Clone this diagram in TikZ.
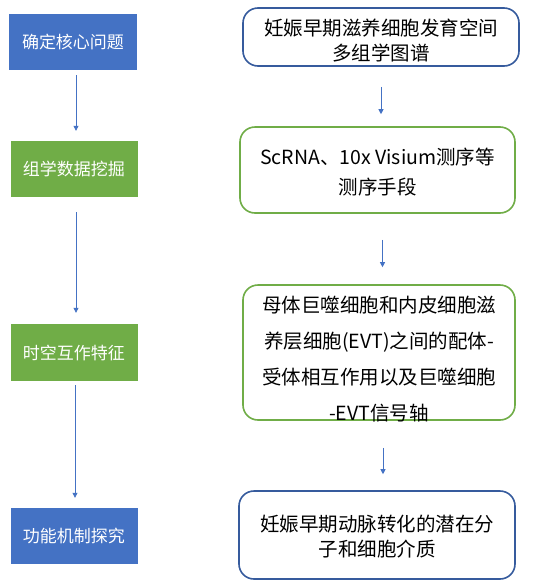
\documentclass[tikz,border=0pt]{standalone}
\usepackage{fontspec}
\setmainfont{Noto Sans CJK SC}
\usetikzlibrary{arrows.meta}
\definecolor{myblue}{HTML}{4472C4}
\definecolor{mygreen}{HTML}{70AD47}
\begin{document}
\begin{tikzpicture}[x=1pt,y=-1pt,
  leftbox/.style={minimum width=127pt, minimum height=56pt, inner sep=0pt, text=white, font=\fontsize{17}{20}\selectfont},
  rightbox/.style={rounded corners=15pt, line width=1.6pt, fill=white, inner sep=0pt, align=center, font=\fontsize{19.5}{25}\selectfont},
  boxtext/.style={align=center, inner sep=0pt, font=\fontsize{19.5}{25}\selectfont},
  flow/.style={draw=myblue, line width=0.8pt, -{Triangle[width=5pt,length=5pt]}}
]
\useasboundingbox[fill=white] (0,0) rectangle (535,587);
% left column
\node[leftbox, fill=myblue, minimum width=128pt] (L1) at (73,42) {确定核心问题};
\node[leftbox, fill=mygreen] (L2) at (74,169) {组学数据挖掘};
\node[leftbox, fill=mygreen, minimum height=57pt] (L3) at (74,352.5) {时空互作特征};
\node[leftbox, fill=myblue] (L4) at (74,536) {功能机制探究};
% right column
\node[rightbox, draw=myblue!80!black, minimum width=276pt, minimum height=58pt] (R1) at (381,37) {};
\node[boxtext] (R1t) at (381,41) {妊娠早期滋养细胞发育空间\\多组学图谱};
\node[rightbox, draw=mygreen, minimum width=275pt, minimum height=86pt] (R2) at (377.5,170) {};
\node[boxtext] (R2t) at (377.5,172) {ScRNA、10x Visium测序等\\[5pt]测序手段};
\node[rightbox, draw=mygreen, minimum width=272pt, minimum height=135pt] (R3) at (379,352.5) {};
\node[boxtext, font=\fontsize{19.5}{36}\selectfont] (R3t) at (379,359) {母体巨噬细胞和内皮细胞滋\\养层细胞(EVT)之间的配体-\\受体相互作用以及巨噬细胞\\-EVT信号轴};
\node[rightbox, draw=myblue!80!black, minimum width=276pt, minimum height=88pt] (R4) at (377,535) {};
\node[boxtext] (R4t) at (377,537) {妊娠早期动脉转化的潜在分\\子和细胞介质};
% arrows left
\draw[flow, shorten <=5pt, shorten >=10pt] ([xshift=3pt]L1.south) -- ([xshift=3pt]L1.south |- L2.north);
\draw[flow, shorten <=15pt, shorten >=11pt] ([xshift=2pt]L2.south) -- ([xshift=2pt]L2.south |- L3.north);
\draw[flow, shorten <=4pt, shorten >=10pt] ([xshift=1pt]L3.south) -- ([xshift=1pt]L3.south |- L4.north);
% arrows right
\draw[flow, shorten <=20pt, shorten >=12pt] (R1.south) -- (R1.south |- R2.north);
\draw[flow, shorten <=26pt, shorten >=17pt] ([xshift=5pt]R2.south) -- ([xshift=5pt]R2.south |- R3.north);
\draw[flow, shorten <=27pt, shorten >=16pt] ([xshift=4pt]R3.south) -- ([xshift=4pt]R3.south |- R4.north);
\end{tikzpicture}
\end{document}
